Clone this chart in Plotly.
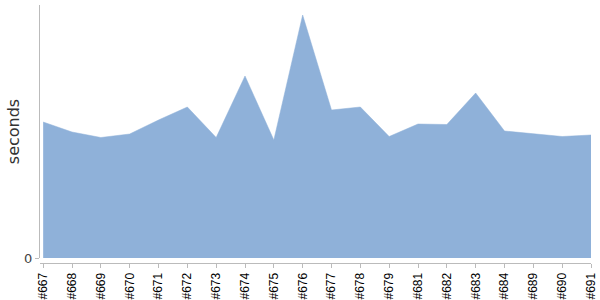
import plotly.graph_objects as go

builds = ["#667", "#668", "#669", "#670", "#671", "#672", "#673", "#674", "#675", "#676",
          "#677", "#678", "#679", "#681", "#682", "#683", "#684", "#689", "#690", "#691"]
seconds = [136, 126, 120.5, 124, 138, 151, 120.5, 182, 118, 243,
           148, 151, 121.5, 134, 133.5, 165, 127, 124, 121.5, 123]
y_ticks = [0]

fill_color = "rgb(143,177,217)"

fig = go.Figure()
fig.add_trace(go.Scatter(
    x=builds, y=seconds, mode="lines", fill="tozeroy",
    fillcolor=fill_color, line=dict(color=fill_color, width=0.5),
    hoverinfo="x+y", showlegend=False,
))

fig.update_layout(
    width=600, height=300,
    margin=dict(l=40, r=9, t=5, b=37),
    paper_bgcolor="white", plot_bgcolor="white",
    xaxis=dict(
        type="category", range=[-0.11, len(builds) - 1],
        anchor="free", position=0, automargin=False,
        showgrid=False, zeroline=False,
        showline=True, linecolor="#bbbbbb", linewidth=1,
        ticks="outside", ticklen=4, tickcolor="#bbbbbb",
        tickangle=-90, ticklabelstandoff=0,
        tickfont=dict(family="Liberation Sans, Arial, sans-serif", size=12, color="#000000"),
    ),
    yaxis=dict(
        domain=[5 / 258, 1], range=[0, 253], automargin=False,
        tickvals=y_ticks, ticktext=[str(v) for v in y_ticks],
        showgrid=False, zeroline=False,
        showline=True, linecolor="#bbbbbb", linewidth=1,
        ticks="outside", ticklen=4, tickcolor="#bbbbbb",
        tickfont=dict(family="DejaVu Sans, Verdana, sans-serif", size=13, color="#444444"),
        title=dict(text="seconds", standoff=0,
                   font=dict(family="DejaVu Sans, Verdana, sans-serif", size=16, color="#333333")),
    ),
)

fig.write_html("out.html")
